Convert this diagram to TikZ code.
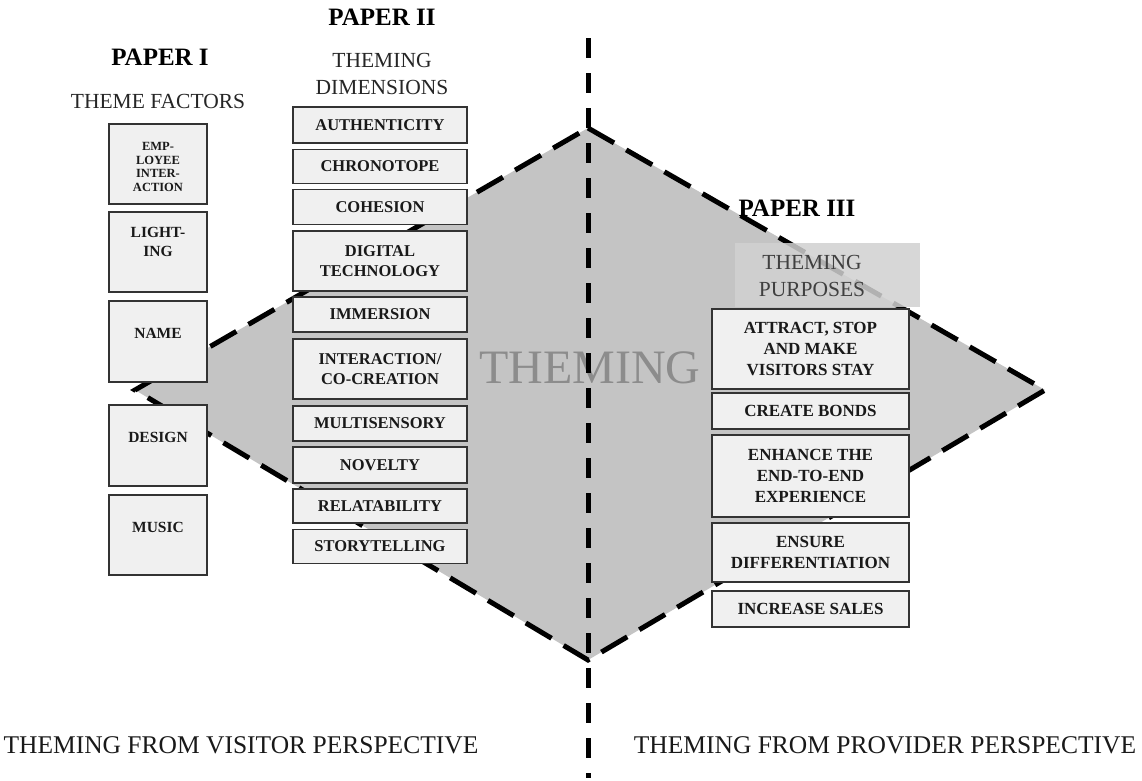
\documentclass[tikz,border=0pt]{standalone}
\usepackage{fontspec}
\setmainfont{Liberation Serif}
\begin{document}
\begin{tikzpicture}[x=1pt,y=-1pt,
  factorbox/.style={draw=black!80,line width=1.3pt,fill=black!6,inner sep=0pt},
  boxtext/.style={font=\fontsize{16.5}{20}\selectfont\bfseries,align=center,inner sep=0pt,text=black!90},
  purposetext/.style={font=\fontsize{17}{21}\selectfont\bfseries,align=center,inner sep=0pt,text=black!90},
  factortext/.style={font=\fontsize{15.5}{19}\selectfont\bfseries,align=center,inner sep=0pt,text=black!90},
  smalltext/.style={font=\fontsize{12.5}{13.5}\selectfont\bfseries,align=center,inner sep=0pt,text=black!90},
  heading/.style={font=\fontsize{25}{28}\selectfont\bfseries,inner sep=0pt},
  subheading/.style={font=\fontsize{21.5}{27}\selectfont,align=center,inner sep=0pt,text=black!85},
  bottomtext/.style={font=\fontsize{25.5}{28}\selectfont,inner sep=0pt,text=black!90},
  bigdash/.style={line width=5pt,dash pattern=on 30pt off 14pt},
]
\useasboundingbox (0,0) rectangle (1142,780);
\fill[white] (0,0) rectangle (1142,780);

% central diamond
\coordinate (dt) at (588,128);
\coordinate (dr) at (1045,390);
\coordinate (db) at (588,660);
\coordinate (dl) at (135,390);
\fill[black!23] (dt) -- (dr) -- (db) -- (dl) -- cycle;
\draw[bigdash] (dt) -- (dr) -- (db) -- (dl) -- cycle;

% big central word
\node[font=\fontsize{48}{48}\selectfont,text=black!45,inner sep=0pt] (theming) at (590,368) {THEMING};

% divider between the two perspectives
\coordinate (vtop) at (588,38);
\coordinate (vbot) at (588,778);
\draw[line width=5pt,dash pattern=on 20pt off 15pt] (vtop) -- (vbot);

% ---------- Paper I ----------
\node[heading] (p1) at (160,57) {PAPER I};
\node[subheading] (p1sub) at (158,101) {THEME FACTORS};

\node[factorbox,minimum width=98pt,minimum height=80pt] (f1) at (158,164) {};
\node[smalltext] at (158,167) {EMP-\\LOYEE\\INTER-\\ACTION};
\node[factorbox,minimum width=98pt,minimum height=80pt] (f2) at (158,252) {};
\node[factortext] at (158,242) {LIGHT-\\ING};
\node[factorbox,minimum width=98pt,minimum height=81pt] (f3) at (158,341.5) {};
\node[factortext] at (158,333) {NAME};
\node[factorbox,minimum width=98pt,minimum height=81pt] (f4) at (158,445.5) {};
\node[factortext] at (158,437) {DESIGN};
\node[factorbox,minimum width=98pt,minimum height=80pt] (f5) at (158,535) {};
\node[factortext] at (158,527) {MUSIC};

% ---------- Paper II ----------
\node[heading] (p2) at (382,17) {PAPER II};
\node[subheading] (p2sub) at (382,74) {THEMING\\DIMENSIONS};

\node[factorbox,minimum width=174pt,minimum height=36pt,boxtext] (d1) at (380,125) {AUTHENTICITY};
\node[factorbox,minimum width=174pt,minimum height=34pt,boxtext] (d2) at (380,166.5) {CHRONOTOPE};
\node[factorbox,minimum width=174pt,minimum height=35pt,boxtext] (d3) at (380,207) {COHESION};
\node[factorbox,minimum width=174pt,minimum height=60pt,boxtext] (d4) at (380,261) {DIGITAL\\TECHNOLOGY};
\node[factorbox,minimum width=174pt,minimum height=35pt,boxtext] (d5) at (380,314.5) {IMMERSION};
\node[factorbox,minimum width=174pt,minimum height=60pt,boxtext] (d6) at (380,369) {INTERACTION/\\CO-CREATION};
\node[factorbox,minimum width=174pt,minimum height=35pt,boxtext] (d7) at (380,423.5) {MULTISENSORY};
\node[factorbox,minimum width=174pt,minimum height=36pt,boxtext] (d8) at (380,465) {NOVELTY};
\node[factorbox,minimum width=174pt,minimum height=34pt,boxtext] (d9) at (380,506) {RELATABILITY};
\node[factorbox,minimum width=174pt,minimum height=34pt,boxtext] (d10) at (380,546.5) {STORYTELLING};

% ---------- Paper III ----------
\node[heading] (p3) at (797,208) {PAPER III};
\fill[black!18,fill opacity=0.85] (735,243) rectangle (920,307);
\node[subheading,text=black!75] (p3sub) at (812,276) {THEMING\\PURPOSES};

\node[factorbox,minimum width=197pt,minimum height=80pt,purposetext] (u1) at (810.5,349) {ATTRACT, STOP\\AND MAKE\\VISITORS STAY};
\node[factorbox,minimum width=197pt,minimum height=36pt,purposetext] (u2) at (810.5,411) {CREATE BONDS};
\node[factorbox,minimum width=197pt,minimum height=82pt,purposetext] (u3) at (810.5,476) {ENHANCE THE\\END-TO-END\\EXPERIENCE};
\node[factorbox,minimum width=197pt,minimum height=59pt,purposetext] (u4) at (810.5,552.5) {ENSURE\\DIFFERENTIATION};
\node[factorbox,minimum width=197pt,minimum height=36pt,purposetext] (u5) at (810.5,609) {INCREASE SALES};

% ---------- perspectives ----------
\node[bottomtext] (visitor) at (241,745) {THEMING FROM VISITOR PERSPECTIVE};
\node[bottomtext] (provider) at (885,745) {THEMING FROM PROVIDER PERSPECTIVE};
\end{tikzpicture}
\end{document}
